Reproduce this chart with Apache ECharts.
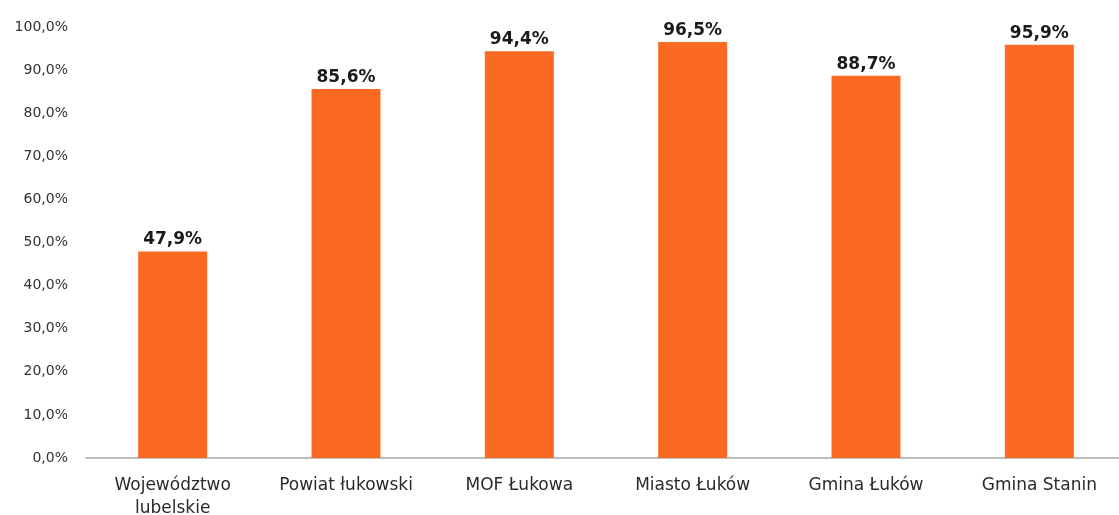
<!DOCTYPE html>
<html>
<head>
<meta charset="utf-8">
<script src="https://cdn.jsdelivr.net/npm/echarts@6/dist/echarts.min.js"></script>
<style>
  html, body { margin: 0; padding: 0; background: #fff; }
  #chart { width: 1119px; height: 515px; }
</style>
</head>
<body>
<div id="chart"></div>
<script>
// dane z wykresu
const categories = ['Województwo\nlubelskie', 'Powiat łukowski', 'MOF Łukowa', 'Miasto Łuków', 'Gmina Łuków', 'Gmina Stanin'];
const values = [47.9, 85.6, 94.4, 96.5, 88.7, 95.9];

const fmt = (v) => v.toFixed(1).replace('.', ',') + '%';

const chart = echarts.init(document.getElementById('chart'), null, { renderer: 'canvas' });

chart.setOption({
  animation: false,
  textStyle: { fontFamily: '"DejaVu Sans", sans-serif' },
  grid: { left: 86, right: -7, top: 27, bottom: 57, containLabel: false, outerBoundsMode: 'none' },
  xAxis: {
    type: 'category',
    data: categories,
    axisLine: { lineStyle: { color: '#a8a8a8', width: 1.5 } },
    axisTick: { show: false },
    axisLabel: { color: '#2a2a2a', fontSize: 17, margin: 16, lineHeight: 23, interval: 0 },
  },
  yAxis: {
    type: 'value',
    min: 0,
    max: 100,
    interval: 10,
    splitLine: { show: false },
    axisLine: { show: false },
    axisTick: { show: false },
    axisLabel: { color: '#333', fontSize: 14, margin: 18, formatter: (v) => fmt(v) },
  },
  series: [
    {
      type: 'bar',
      data: values,
      barWidth: 69,
      itemStyle: { color: '#fb6a22' },
      label: {
        show: true,
        position: 'top',
        distance: 3,
        color: '#1a1a1a',
        fontSize: 17,
        fontWeight: 'bold',
        formatter: (p) => fmt(p.value),
      },
    },
  ],
});
</script>
</body>
</html>
